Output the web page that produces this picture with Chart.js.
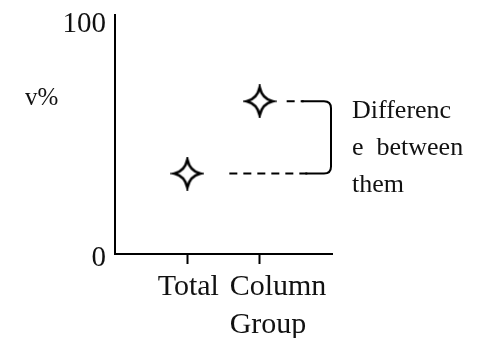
<!DOCTYPE html>
<html lang="en">
<head>
    <meta charset="UTF-8">
    <title>Difference between them</title>
    <script src="https://cdn.jsdelivr.net/npm/chart.js"></script>
    <style>
        html, body { margin: 0; padding: 0; background: #fff; }
        #wrap { position: relative; width: 482px; height: 338px; }
    </style>
</head>
<body>
    <div id="wrap">
        <canvas id="myChart" width="482" height="338"></canvas>
    </div>

<script>
    // dados do grafico
    const categorias = ['Total', 'Column Group'];
    const valores = [34.5, 65.5];
    const yTicks = [0, 100];
    const yTitulo = 'v%';
    const notaLinhas = ['Differenc', 'e  between', 'them'];

    const fonte = 'Liberation Serif';

    // estrela de 4 pontas (contorno preto, miolo branco)
    function fazerEstrela() {
        const c = document.createElement('canvas');
        c.width = 34;
        c.height = 34;
        const g = c.getContext('2d');
        const cx = 17, cy = 17, rx = 13, ry = 14, k = 2.5;
        g.beginPath();
        g.moveTo(cx, cy - ry);
        g.quadraticCurveTo(cx + k, cy - k, cx + rx, cy);
        g.quadraticCurveTo(cx + k, cy + k, cx, cy + ry);
        g.quadraticCurveTo(cx - k, cy + k, cx - rx, cy);
        g.quadraticCurveTo(cx - k, cy - k, cx, cy - ry);
        g.closePath();
        g.fillStyle = '#fff';
        g.fill();
        g.lineWidth = 2.6;
        g.lineJoin = 'miter';
        g.strokeStyle = '#000';
        g.stroke();
        return c;
    }

    const anotacoes = {
        id: 'anotacoes',
        afterDraw(chart) {
            const ctx = chart.ctx;
            const x = chart.scales.x;
            const y = chart.scales.y;
            const area = chart.chartArea;

            const xTotal = x.getPixelForValue(1);
            const xGrupo = x.getPixelForValue(2);
            const yBaixo = y.getPixelForValue(valores[0]);
            const yAlto = y.getPixelForValue(valores[1]);
            const xCol = area.right - 1;
            const r = 7;

            ctx.save();
            ctx.strokeStyle = '#000';
            ctx.lineWidth = 2;

            // tracejados
            ctx.setLineDash([8, 6]);
            ctx.beginPath();
            ctx.moveTo(xGrupo + 27, yAlto);
            ctx.lineTo(xGrupo + 44, yAlto);
            ctx.moveTo(xTotal + 42, yBaixo);
            ctx.lineTo(xTotal + 120, yBaixo);
            ctx.stroke();

            // colchete
            ctx.setLineDash([]);
            ctx.beginPath();
            ctx.moveTo(xGrupo + 42, yAlto);
            ctx.lineTo(xCol - r, yAlto);
            ctx.quadraticCurveTo(xCol, yAlto, xCol, yAlto + r);
            ctx.lineTo(xCol, yBaixo - r);
            ctx.quadraticCurveTo(xCol, yBaixo, xCol - r, yBaixo);
            ctx.lineTo(xTotal + 118, yBaixo);
            ctx.stroke();

            // texto da nota
            ctx.fillStyle = '#111';
            ctx.textAlign = 'left';
            ctx.textBaseline = 'alphabetic';
            ctx.font = '26px "' + fonte + '"';
            for (let i = 0; i < notaLinhas.length; i++) {
                ctx.fillText(notaLinhas[i], xCol + 21, yAlto + 17 + i * 37);
            }

            // titulo do eixo y
            ctx.font = '25px "' + fonte + '"';
            ctx.fillText(yTitulo, 25, 105);

            // rotulos do eixo x
            ctx.font = '30px "' + fonte + '"';
            ctx.textAlign = 'center';
            ctx.fillText(categorias[0], xTotal + 1, area.bottom + 41);
            ctx.textAlign = 'left';
            const partes = categorias[1].split(' ');
            for (let i = 0; i < partes.length; i++) {
                ctx.fillText(partes[i], xGrupo - 30, area.bottom + 41 + i * 38);
            }
            ctx.restore();
        }
    };

    const estrela = fazerEstrela();

    const dados = {
        datasets: [{
            label: '',
            data: valores.map((v, i) => ({ x: i + 1, y: v })),
            pointStyle: estrela,
            pointRadius: 14,
            pointHoverRadius: 14,
            showLine: false
        }]
    };

    const config = {
        type: 'scatter',
        data: dados,
        options: {
            responsive: false,
            animation: false,
            events: [],
            clip: false,
            layout: {
                padding: { left: 64, right: 150, top: 13, bottom: 0 }
            },
            scales: {
                x: {
                    type: 'linear',
                    min: 0,
                    max: 3,
                    afterBuildTicks: s => { s.ticks = categorias.map((c, i) => ({ value: i + 1 })); },
                    afterFit: s => { s.height = 84; s.paddingLeft = 0; s.paddingRight = 0; },
                    ticks: { display: false },
                    grid: {
                        display: true,
                        drawOnChartArea: false,
                        drawTicks: true,
                        tickLength: 10,
                        tickColor: '#000',
                        tickWidth: 2
                    },
                    border: { display: true, color: '#000', width: 2 }
                },
                y: {
                    min: 0,
                    max: 102.5,
                    afterBuildTicks: s => { s.ticks = yTicks.map(v => ({ value: v })); },
                    afterFit: s => { s.width = 51; s.paddingTop = 0; s.paddingBottom = 0; },
                    ticks: {
                        color: '#111',
                        padding: 9,
                        labelOffset: 4,
                        font: { family: fonte, size: 29 }
                    },
                    grid: { display: false, drawTicks: false },
                    border: { display: true, color: '#000', width: 2 }
                }
            },
            plugins: {
                legend: { display: false },
                tooltip: { enabled: false }
            }
        },
        plugins: [anotacoes]
    };

    const grafico = new Chart(document.getElementById('myChart'), config);
</script>
</body>
</html>
